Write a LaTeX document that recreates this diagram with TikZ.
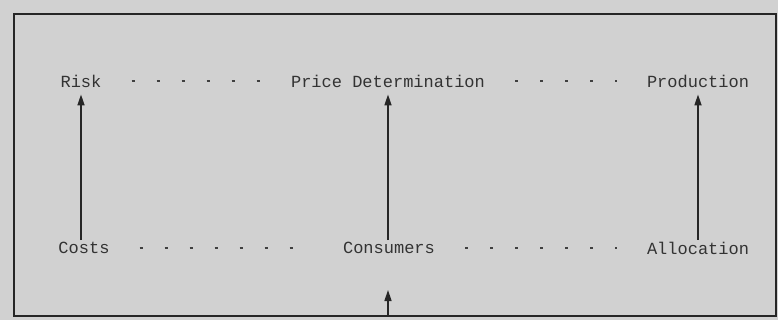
\documentclass[tikz,border=0pt]{standalone}
\usepackage{fontspec}
\setmonofont{Liberation Mono}
\usetikzlibrary{arrows.meta}
\begin{document}
\begin{tikzpicture}[x=1pt,y=-1pt,
  lbl/.style={font=\ttfamily\fontsize{17}{19}\selectfont, text=black!80, inner sep=2pt},
  up/.style={line width=1.6pt, draw=black!85, -{Triangle[length=11pt,width=7pt]}},
  dots/.style={line width=2.2pt, draw=black!75, dash pattern=on 3pt off 22pt, shorten <=28pt, shorten >=28pt}]
\useasboundingbox (0,0) rectangle (778,320);
\fill[black!18] (0,0) rectangle (778,320);
\draw[line width=2pt, black!85] (14,14) rectangle (776,316);
\node[lbl] (r) at (81,81) {Risk};
\node[lbl] (pf) at (388,81) {Price Determination};
\node[lbl] (pr) at (698,81) {Production};
\node[lbl] (c) at (84,248) {Costs};
\node[lbl] (d) at (389,248) {Consumers};
\node[lbl] (a) at (698,248) {Allocation};
\draw[dots] (r.east) -- (pf.west);
\draw[dots] (pf.east) -- (pr.west);
\draw[dots] (c.east) -- (d.west);
\draw[dots] (d.east) -- (a.west);
\draw[up] (c.north -| r) -- ([yshift=-5pt]r.south);
\draw[up] (d.north -| pf) -- ([yshift=-5pt]pf.south);
\draw[up] (a.north -| pr) -- ([yshift=-5pt]pr.south);
\coordinate (bb) at (388,316);
\coordinate (bt) at (388,290);
\draw[up] (bb) -- (bt);
\end{tikzpicture}
\end{document}
